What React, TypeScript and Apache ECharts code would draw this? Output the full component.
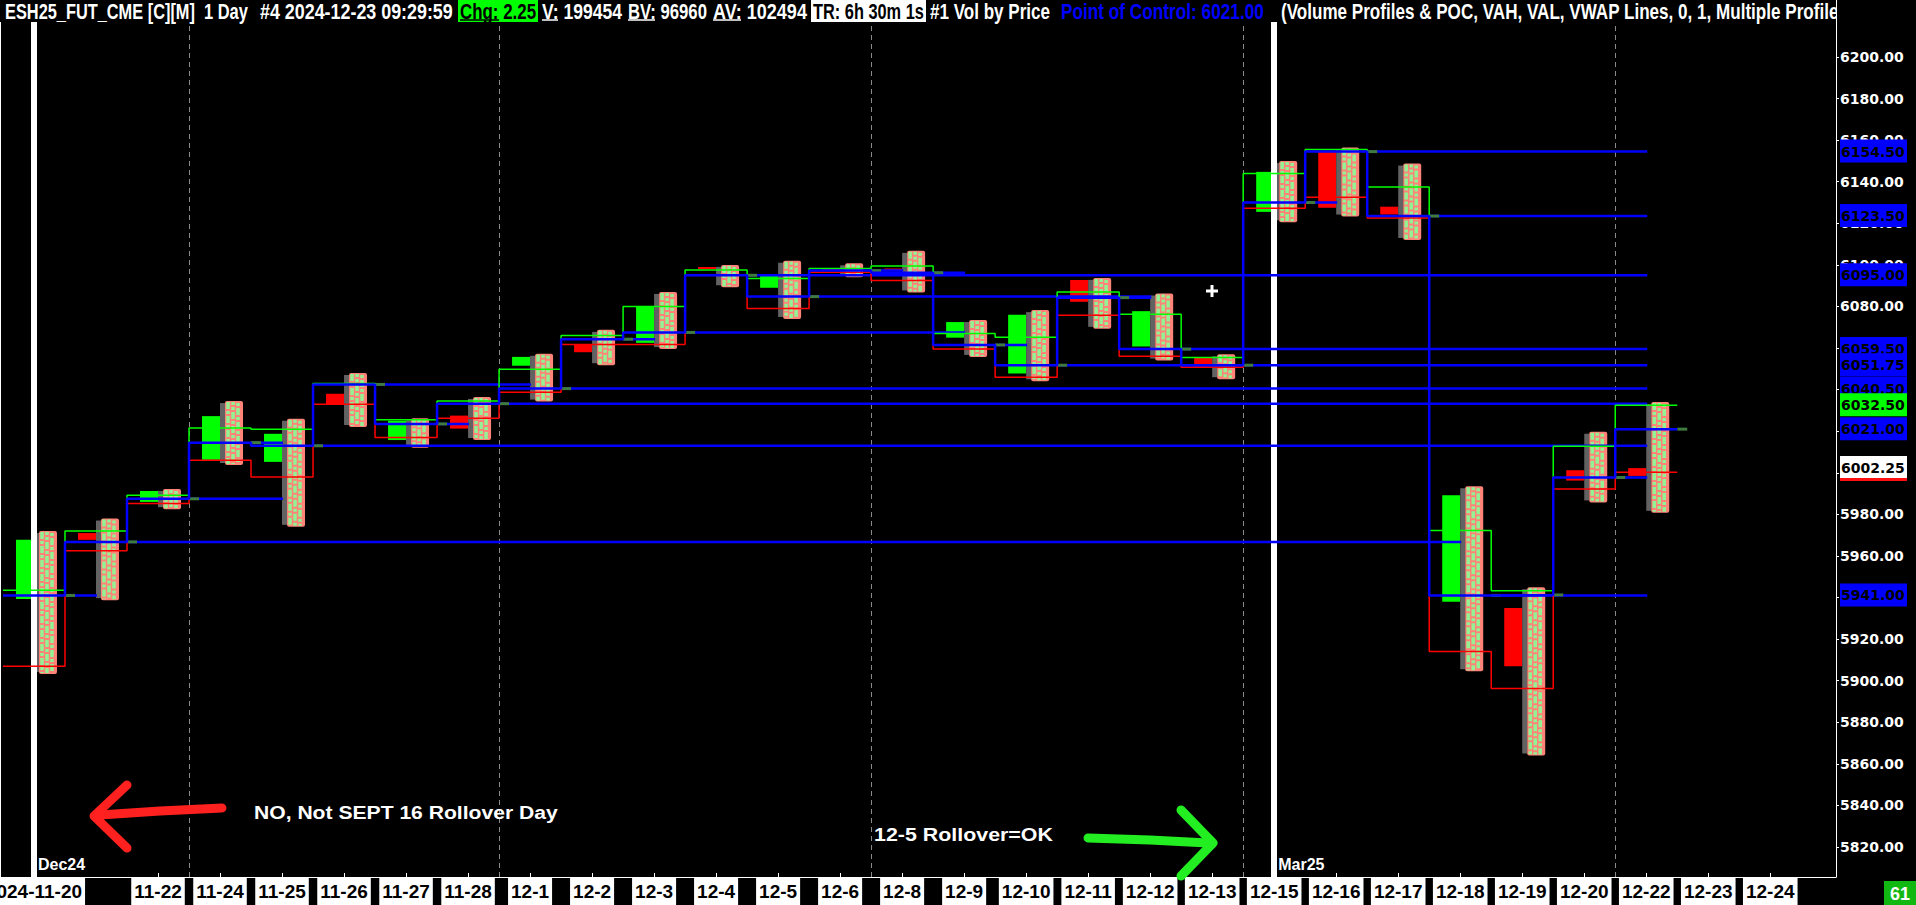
import React, { useEffect, useRef } from 'react';
import * as echarts from 'echarts';

// ---------- data ----------
const dates = ['2024-11-20', '11-21', '11-22', '11-24', '11-25', '11-26', '11-27', '11-28', '12-1', '12-2', '12-3', '12-4', '12-5', '12-6', '12-8', '12-9', '12-10', '12-11', '12-12', '12-13', '12-15', '12-16', '12-17', '12-18', '12-19', '12-20', '12-22', '12-23', '12-24'];
const hiddenLabels = [1];

const opens = [5939.25, 5971, 5986, 6006.25, 6005.25, 6038, 6015.75, 6027.5, 6051.5, 6061.75, 6062.5, 6099, 6089, 6098.5, 6098.25, 6065, 6047.75, 6092.75, 6060.75, 6055.5, 6125.5, 6154.75, 6128, 5938, 5935, 6001.25, 6002.25];
const closes = [5967.75, 5967.75, 5991.25, 6027.25, 6018.75, 6033, 6025, 6021.25, 6055.75, 6058, 6080.25, 6098.5, 6094.75, 6097.5, 6097.75, 6072.5, 6076, 6082.25, 6077.75, 6050.75, 6144.75, 6127.5, 6124.25, 5989.25, 5907, 5996.25, 5998.5];
const highs = [5972, 5978, 5992.25, 6034.5, 6026, 6048, 6026.25, 6036.5, 6057.25, 6068.75, 6087, 6100, 6102, 6100.75, 6106.75, 6073.5, 6078.25, 6093.75, 6086.25, 6057, 6150, 6156.5, 6148.75, 5993.5, 5945, 6019.75, 6034];
const lows = [5903.25, 5938.75, 5982.5, 6003.75, 5974, 6022, 6012, 6015.75, 6034.25, 6051.75, 6059.5, 6089.25, 6074, 6094, 6086.75, 6055.75, 6044, 6069.25, 6054, 6045, 6120.5, 6123.25, 6112, 5904.5, 5864, 5985.75, 5980.75];
const vah = [5943.5, 5972, 5989.25, 6021.5, 6021, 6043, 6025.5, 6034.5, 6049.75, 6066, 6080, 6097.5, 6093.5, 6098.25, 6099.5, 6067, 6065.25, 6087, 6076.25, 6055.5, 6144, 6155.5, 6137.5, 5972.25, 5943.25, 6012.75, 6032.5];
const val = [5907, 5962.5, 5985.25, 6006, 5998, 6033, 6017, 6026.25, 6038.75, 6061.75, 6061.75, 6095, 6079, 6096.5, 6092.5, 6059.5, 6046, 6075.75, 6056, 6050.75, 6127.25, 6132.5, 6122.5, 5914, 5896.25, 5992.25, 6000.25];
const poc = [5941, 5966.75, 5987.5, 6014.5, 6013, 6042.5, 6023.5, 6033.25, 6040.5, 6064.25, 6067.5, 6095, 6084.75, 6097.25, 6096.25, 6061.5, 6051.75, 6084.25, 6059.5, 6051.75, 6130, 6154.5, 6123.5, 5941, 5941.25, 5997.75, 6021];
const pocEnd = [1, 23, 4, 4, 26, 8, 7, 26, 26, 10, 15, 26, 18, 14, 15, 16, 26, 18, 26, 19, 21, 26, 26, 26, 24, 26, 26];

const yTicks = [5820, 5840, 5860, 5880, 5900, 5920, 5940, 5960, 5980, 6000, 6020, 6040, 6060, 6080, 6100, 6120, 6140, 6160, 6180, 6200];
const weekBreaks = [2.5, 7.5, 13.5, 19.5, 25.5];
const rolloverBars = [0, 20];
const contractNames = ['Dec24', 'Mar25'];
const priceMarkers = [6154.5, 6123.5, 6095, 6059.5, 6051.75, 6040.5, 6032.5, 6021, 6002.25, 5941];
const markerKinds = ['poc', 'poc', 'poc', 'poc', 'poc', 'poc', 'vah', 'poc', 'last', 'poc'];

const headerParts = [
  { text: 'ESH25_FUT_CME [C][M]', x: 5, w: 190 },
  { text: '1 Day', x: 204, w: 44 },
  { text: '#4 2024-12-23 09:29:59', x: 260, w: 193 },
  { text: 'Chg: 2.25', x: 460, w: 76, kind: 'chg' },
  { text: 'V: 199454', x: 542, w: 80 },
  { text: 'BV: 96960', x: 628, w: 79 },
  { text: 'AV: 102494', x: 713, w: 94 },
  { text: 'TR: 6h 30m 1s', x: 813, w: 111, kind: 'tr' },
  { text: '#1 Vol by Price', x: 930, w: 120 },
  { text: 'Point of Control: 6021.00', x: 1061, w: 203, kind: 'poc' },
  { text: '(Volume Profiles & POC, VAH, VAL, VWAP Lines, 0, 1, Multiple Profile', x: 1281, w: 0 },
];

const X_MIN = -0.548;
const X_MAX = 29.06;
const Y_MIN = 5805.57;
const Y_MAX = 6227.42;

function stepData(vals: number[]) {
  const out: number[][] = [];
  vals.forEach((v, i) => {
    out.push([i - 0.5, v]);
    out.push([i + 0.5, v]);
  });
  return out;
}

function measure(text: string, font: string) {
  const c = document.createElement('canvas').getContext('2d') as CanvasRenderingContext2D;
  c.font = font;
  return c.measureText(text).width;
}

export default function App() {
  const ref = useRef<HTMLDivElement>(null);
  useEffect(() => {
    document.body.style.margin = '0';
    document.body.style.background = '#000';
    if (!ref.current) return;
    const chart = echarts.init(ref.current, undefined, { renderer: 'svg' });

    const HFONT = 'bold 22px "Liberation Sans"';
    let tw = 0, mw = 0;
    headerParts.forEach((p) => {
      if (p.w > 0) { tw += p.w; mw += measure(p.text, HFONT); }
    });
    const avgScale = tw / mw;

    const narrowOK = Math.abs(measure('11-22 ABCabc', 'bold 22px "Liberation Sans Narrow", monospace') - measure('11-22 ABCabc', 'bold 22px monospace')) > 0.5;
    const xFontFamily = narrowOK ? 'Liberation Sans Narrow' : 'Liberation Sans';
    const xFontSize = narrowOK ? 22 : 19;

    const graphics: any[] = [];
    graphics.push({ type: 'rect', shape: { x: 0, y: 0, width: 1916, height: 22 }, style: { fill: '#000' }, z: 100, silent: true });
    graphics.push({ type: 'rect', shape: { x: 458, y: 0, width: 80, height: 22 }, style: { fill: '#00ff00' }, z: 101, silent: true });
    graphics.push({ type: 'rect', shape: { x: 811, y: 0, width: 115, height: 22 }, style: { fill: '#ffffff' }, z: 101, silent: true });
    headerParts.forEach((p) => {
      const fill = p.kind === 'chg' || p.kind === 'tr' ? '#000' : p.kind === 'poc' ? '#0000ff' : '#fff';
      const sx = p.w > 0 ? p.w / measure(p.text, HFONT) : avgScale;
      graphics.push({ type: 'text', x: p.x, y: 11, scaleX: sx, z: 102, silent: true, style: { text: p.text, font: HFONT, fill, verticalAlign: 'middle' } });
    });
    const underlines = [[460, 499, '#000'], [542, 558, '#fff'], [628, 655, '#fff'], [713, 741, '#fff']];
    underlines.forEach((u: any) => {
      graphics.push({ type: 'line', shape: { x1: u[0], y1: 20, x2: u[1], y2: 20 }, style: { stroke: u[2], lineWidth: 1.5 }, z: 103, silent: true });
    });
    graphics.push({ type: 'rect', shape: { x: 1837, y: 0, width: 79, height: 30 }, style: { fill: '#000' }, z: 104, silent: true });
    graphics.push({ type: 'line', shape: { x1: 1836.5, y1: 0, x2: 1836.5, y2: 30 }, style: { stroke: '#fff', lineWidth: 1 }, z: 104, silent: true });
    graphics.push({ type: 'line', shape: { x1: 0.5, y1: 22, x2: 0.5, y2: 877 }, style: { stroke: '#fff', lineWidth: 1 }, z: 104, silent: true });

    // annotations
    const AFONT = 'bold 18px "Liberation Sans"';
    const t1 = 'NO, Not SEPT 16 Rollover Day';
    const t2 = '12-5 Rollover=OK';
    graphics.push({ type: 'text', x: 254, y: 813, scaleX: 304 / measure(t1, AFONT), z: 90, silent: true, style: { text: t1, font: AFONT, fill: '#fff', verticalAlign: 'middle' } });
    graphics.push({ type: 'text', x: 874, y: 835, scaleX: 179 / measure(t2, AFONT), z: 90, silent: true, style: { text: t2, font: AFONT, fill: '#fff', verticalAlign: 'middle' } });
    graphics.push({ type: 'polyline', shape: { points: [[222, 808], [160, 811], [100, 815]] }, style: { stroke: '#ff2020', lineWidth: 9, lineCap: 'round', lineJoin: 'round', fill: null }, z: 90, silent: true });
    graphics.push({ type: 'polyline', shape: { points: [[127, 785], [94, 816], [127, 848]] }, style: { stroke: '#ff2020', lineWidth: 9, lineCap: 'round', lineJoin: 'round', fill: null }, z: 90, silent: true });
    graphics.push({ type: 'polyline', shape: { points: [[1088, 838], [1150, 840], [1208, 843]] }, style: { stroke: '#22ee22', lineWidth: 9, lineCap: 'round', lineJoin: 'round', fill: null }, z: 90, silent: true });
    graphics.push({ type: 'polyline', shape: { points: [[1181, 810], [1213, 843], [1181, 876]] }, style: { stroke: '#22ee22', lineWidth: 9, lineCap: 'round', lineJoin: 'round', fill: null }, z: 90, silent: true });
    graphics.push({ type: 'line', shape: { x1: 1206, y1: 291, x2: 1218, y2: 291 }, style: { stroke: '#fff', lineWidth: 3 }, z: 90, silent: true });
    graphics.push({ type: 'line', shape: { x1: 1212, y1: 285, x2: 1212, y2: 297 }, style: { stroke: '#fff', lineWidth: 3 }, z: 90, silent: true });
    graphics.push({ type: 'rect', shape: { x: 1884, y: 881, width: 32, height: 24 }, style: { fill: '#12b812' }, z: 90, silent: true });
    graphics.push({ type: 'text', x: 1900, y: 894, z: 91, silent: true, style: { text: '61', font: 'bold 18px "Liberation Sans"', fill: '#fff', align: 'center', verticalAlign: 'middle' } });

    const labelIdx = dates.map((_, i) => i).filter((i) => !hiddenLabels.includes(i));

    const option: any = {
      animation: false,
      backgroundColor: '#000',
      grid: { left: 0, right: 80, top: 0, bottom: 28, containLabel: false, outerBoundsMode: 'none' },
      xAxis: {
        type: 'value', min: X_MIN, max: X_MAX,
        axisLine: { show: true, onZero: false, lineStyle: { color: '#fff', width: 1 } },
        splitLine: { show: false },
        axisTick: { show: true, inside: true, length: 4, customValues: labelIdx, lineStyle: { color: '#fff' } },
        axisLabel: {
          customValues: labelIdx,
          formatter: (v: number) => dates[Math.round(v)],
          color: '#000', backgroundColor: '#fff', padding: [4, 3, 4, 3], margin: 1,
          fontFamily: xFontFamily, fontWeight: 'bold', fontSize: xFontSize,
        },
      },
      yAxis: {
        type: 'value', position: 'right', min: Y_MIN, max: Y_MAX,
        axisLine: { show: true, onZero: false, lineStyle: { color: '#fff', width: 1 } },
        splitLine: { show: false },
        axisTick: { show: true, length: 3, customValues: yTicks, lineStyle: { color: '#fff' } },
        axisLabel: {
          customValues: yTicks, formatter: (v: number) => v.toFixed(2),
          color: '#fff', fontFamily: 'DejaVu Sans', fontWeight: 'bold', fontSize: 14, margin: 4,
        },
      },
      graphic: graphics,
      series: [
        {
          name: 'candles', type: 'custom', z: 3,
          data: opens.map((o, i) => [i, o, closes[i]]),
          encode: { x: 0, y: [1, 2] },
          renderItem: (params: any, api: any) => {
            const i = api.value(0), o = api.value(1), c = api.value(2);
            const po = api.coord([i, o]);
            const pc = api.coord([i, c]);
            const top = Math.min(po[1], pc[1]);
            const h = Math.max(2, Math.abs(po[1] - pc[1]));
            return { type: 'rect', shape: { x: po[0] - 18, y: top, width: 18, height: h }, style: { fill: c >= o ? '#00ff00' : '#ff0000' } };
          },
          markLine: {
            silent: true, symbol: ['none', 'none'], label: { show: false },
            lineStyle: { color: '#fff', width: 6, type: 'solid' },
            data: rolloverBars.map((b) => ({ xAxis: b })),
          },
        },
        {
          name: 'profiles', type: 'custom', z: 4,
          data: highs.map((h, i) => [i, h, lows[i]]),
          encode: { x: 0, y: [1, 2] },
          renderItem: (params: any, api: any) => {
            const i = api.value(0), hi = api.value(1), lo = api.value(2);
            const ph = api.coord([i, hi]);
            const pl = api.coord([i, lo]);
            const x = ph[0];
            const h = pl[1] - ph[1];
            const children: any[] = [
              { type: 'rect', shape: { x: x, y: ph[1] + 2, width: 5, height: Math.max(1, h - 4) }, style: { fill: '#626262' } },
              { type: 'rect', shape: { x: x + 5, y: ph[1], width: 18, height: h, r: 2 }, style: { fill: '#ff8378' } },
            ];
            [0, 1, 2].forEach((k) => {
              children.push({ type: 'line', shape: { x1: x + 8 + k * 5, y1: ph[1] + 1, x2: x + 8 + k * 5, y2: pl[1] - 1 }, style: { stroke: '#93f393', lineWidth: 3.5, lineDash: [7, 2, 3, 2], lineDashOffset: k * 4 } });
            });
            return { type: 'group', children };
          },
          markLine: {
            silent: true, symbol: ['none', 'none'], label: { show: false },
            lineStyle: { color: '#8a8a8a', width: 1, type: [5, 4] },
            data: weekBreaks.map((b) => ({ xAxis: b })),
          },
        },
        {
          name: 'POC extensions', type: 'custom', z: 5,
          data: poc.map((v, i) => [i, v, pocEnd[i]]),
          encode: { x: 0, y: 1 },
          renderItem: (params: any, api: any) => {
            const i = api.value(0), v = api.value(1), e = api.value(2);
            const a = api.coord([i + 0.5, v]);
            const children: any[] = [];
            if (e > i) {
              const b = api.coord([e, v]);
              children.push({ type: 'line', shape: { x1: a[0], y1: a[1], x2: b[0] + 1, y2: b[1] }, style: { stroke: '#0000ff', lineWidth: 2.5 } });
            }
            children.push({ type: 'line', z2: 10, shape: { x1: a[0], y1: a[1], x2: a[0] + 10, y2: a[1] }, style: { stroke: '#3f7a3f', lineWidth: 3 } });
            return { type: 'group', children };
          },
        },
        { name: 'VAH', type: 'line', z: 6, data: stepData(vah), symbol: 'none', lineStyle: { color: '#00ff00', width: 1.5 } },
        { name: 'VAL', type: 'line', z: 6, data: stepData(val), symbol: 'none', lineStyle: { color: '#ff0000', width: 1.5 } },
        { name: 'POC', type: 'line', z: 6, data: stepData(poc), symbol: 'none', lineStyle: { color: '#0000ff', width: 2.5 } },
        {
          name: 'contracts', type: 'custom', z: 7, clip: false,
          data: rolloverBars.map((b) => [b, Y_MIN]),
          encode: { x: 0, y: 1 },
          renderItem: (params: any, api: any) => {
            const p = api.coord([api.value(0), api.value(1)]);
            return { type: 'text', x: p[0] + 4, y: p[1] - 13, style: { text: contractNames[params.dataIndex], font: 'bold 16px "Liberation Sans"', fill: '#fff', verticalAlign: 'middle' } };
          },
        },
        {
          name: 'price markers', type: 'custom', z: 8, clip: false,
          data: priceMarkers.map((v) => [X_MAX, v]),
          encode: { x: 0, y: 1 },
          renderItem: (params: any, api: any) => {
            const p = api.coord([api.value(0), api.value(1)]);
            const kind = markerKinds[params.dataIndex];
            const bg = kind === 'vah' ? '#00ff00' : kind === 'last' ? '#ffffff' : '#0000ff';
            const x = p[0] + 4;
            const children: any[] = [
              { type: 'rect', shape: { x, y: p[1] - 12, width: 67, height: 23 }, style: { fill: bg } },
              { type: 'text', x: x + 1, y: p[1], style: { text: api.value(1).toFixed(2), font: 'bold 14px "DejaVu Sans"', fill: '#000', verticalAlign: 'middle' } },
            ];
            if (kind === 'last') children.push({ type: 'rect', shape: { x, y: p[1] + 10, width: 67, height: 3 }, style: { fill: '#ff1010' } });
            return { type: 'group', children };
          },
        },
      ],
    };
    chart.setOption(option);
    return () => chart.dispose();
  }, []);
  return <div ref={ref} style={{ width: 1916, height: 905, background: '#000' }} />;
}
